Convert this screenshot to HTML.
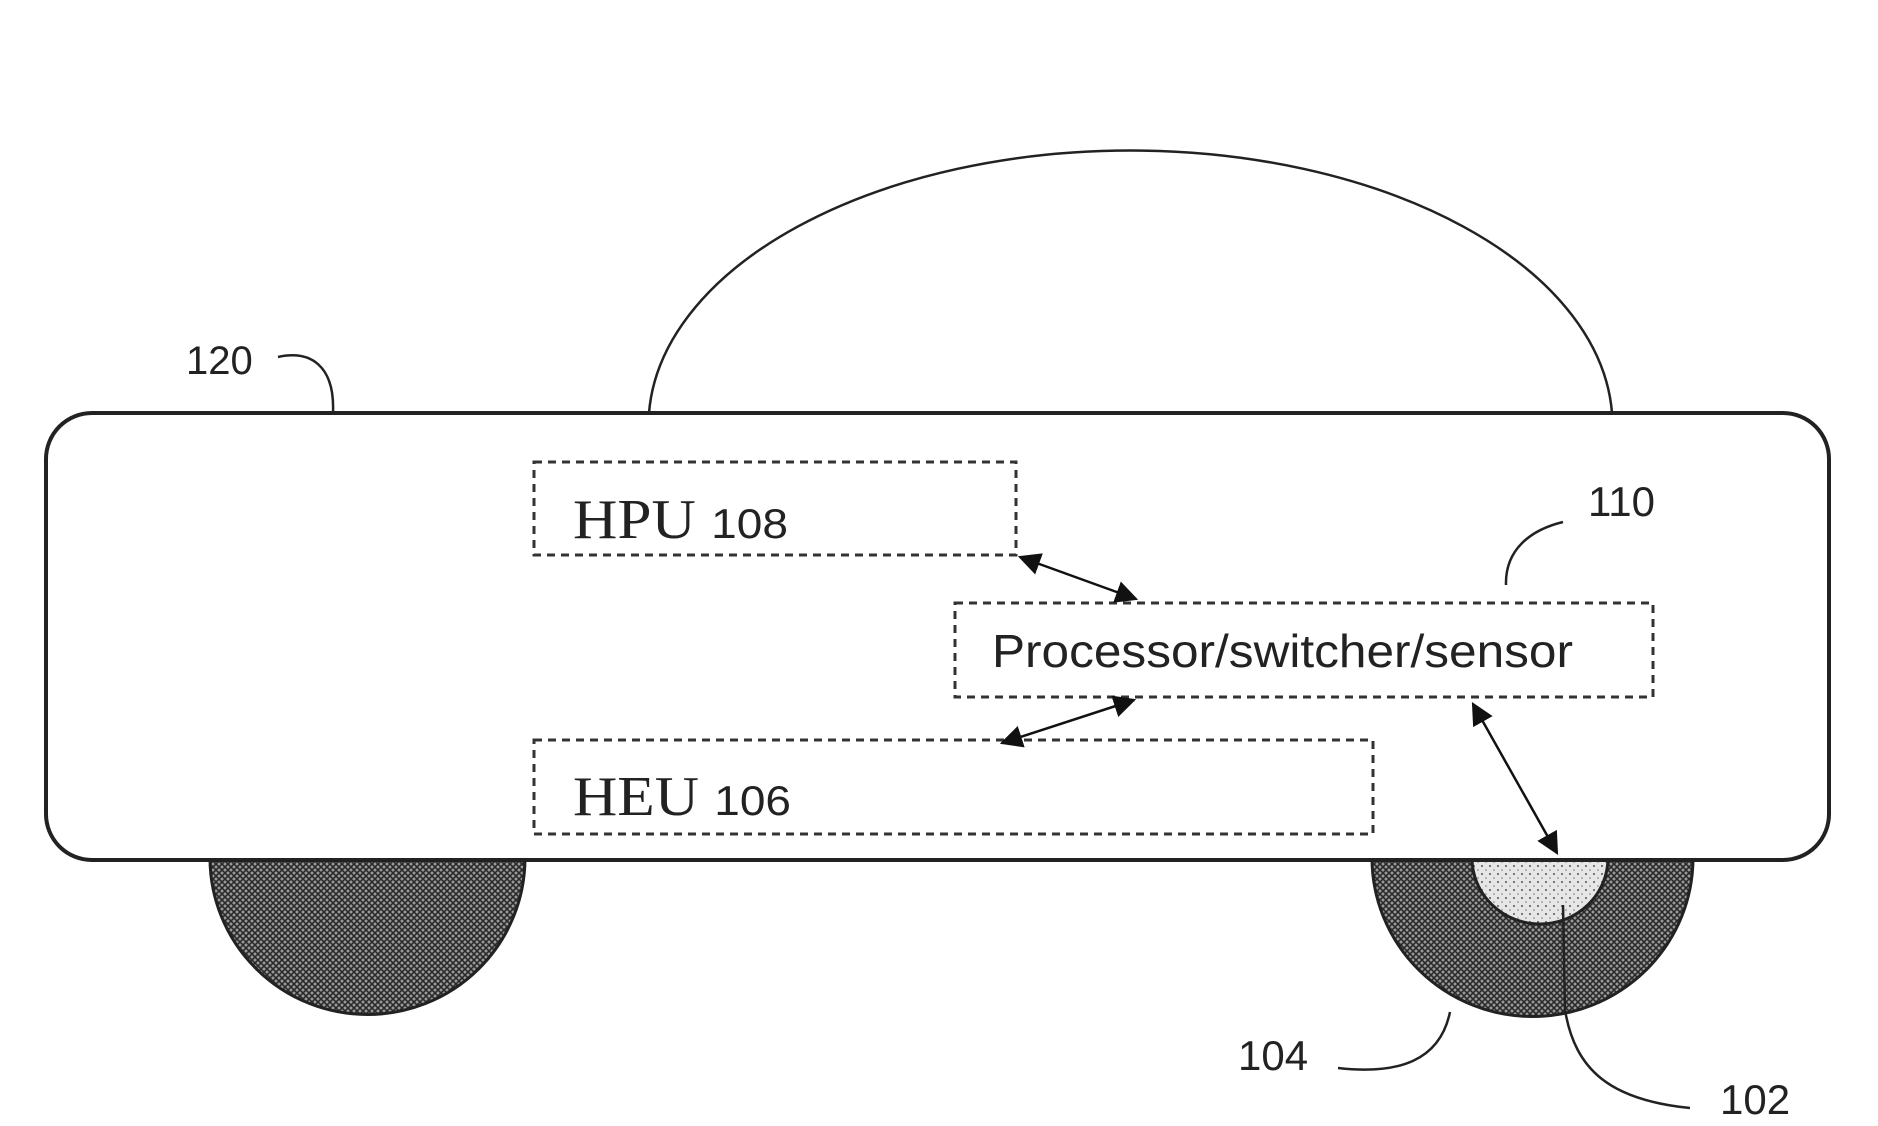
<!DOCTYPE html>
<html><head><meta charset="utf-8"><style>
html,body{margin:0;padding:0;background:#fff;}
svg{display:block;}
</style></head><body>
<svg width="1878" height="1126" viewBox="0 0 1878 1126" xmlns="http://www.w3.org/2000/svg">
<defs>
<pattern id="h" width="6" height="6" patternUnits="userSpaceOnUse">
<rect width="6" height="6" fill="#9a9a9a"/>
<path d="M0 0L6 6M6 0L0 6" stroke="#2a2a2a" stroke-width="1.6"/>
</pattern>
<pattern id="d" width="8" height="8" patternUnits="userSpaceOnUse">
<rect width="8" height="8" fill="#e6e6e6"/>
<circle cx="2" cy="2" r="1" fill="#555"/><circle cx="6" cy="6" r="0.8" fill="#777"/>
</pattern>
<marker id="a" viewBox="0 0 10 10" refX="9" refY="5" markerWidth="9" markerHeight="9" orient="auto-start-reverse">
<path d="M0 0L10 5L0 10z" fill="#111"/>
</marker>
</defs>
<!-- dome -->
<path d="M649 413 A 482 275 0 0 1 1612 413" fill="none" stroke="#222" stroke-width="2.5"/>
<!-- wheels -->
<path d="M210 858 A157 156 0 0 0 525 858 Z" fill="url(#h)" stroke="#222" stroke-width="3"/>
<path d="M1372 858 A160 158 0 0 0 1693 858 Z" fill="url(#h)" stroke="#222" stroke-width="3"/>
<path d="M1472 858 A68 66 0 0 0 1608 858 Z" fill="url(#d)" stroke="#222" stroke-width="3"/>
<!-- body -->
<rect x="46" y="413" width="1783" height="447" rx="46" ry="46" fill="#fff" stroke="#222" stroke-width="4"/>
<!-- dashed boxes -->
<g fill="none" stroke="#333" stroke-width="3" stroke-dasharray="8 6">
<rect x="534" y="462" width="482" height="93"/>
<rect x="955" y="603" width="698" height="94"/>
<rect x="534" y="740" width="839" height="94"/>
</g>
<!-- arrows -->
<g stroke="#111" stroke-width="2.5" fill="none" marker-start="url(#a)" marker-end="url(#a)">
<line x1="1020" y1="557" x2="1136" y2="599"/>
<line x1="1002" y1="743" x2="1134" y2="700"/>
<line x1="1473" y1="704" x2="1557" y2="853"/>
</g>
<!-- leaders -->
<g stroke="#222" stroke-width="2.5" fill="none">
<path d="M278 357 C 310 350, 335 365, 333 413"/>
<path d="M1563 522 C 1530 530, 1505 550, 1506 585"/>
<path d="M1338 1068 C 1400 1075, 1440 1060, 1450 1012"/>
<path d="M1563 905 L1565 1010 C 1575 1070, 1610 1100, 1690 1108"/>
</g>
<!-- text -->
<g font-family="Liberation Sans, sans-serif" fill="#222">
<text x="186" y="374" font-size="40">120</text>
<text x="1588" y="516" font-size="42">110</text>
<text x="1238" y="1070" font-size="42">104</text>
<text x="1720" y="1114" font-size="42">102</text>
<text x="992" y="667" font-size="46" textLength="581" lengthAdjust="spacingAndGlyphs">Processor/switcher/sensor</text>
</g>
<text x="573" y="538" font-family="Liberation Serif, serif" font-size="56" fill="#222" textLength="215" lengthAdjust="spacingAndGlyphs">HPU <tspan font-family="Liberation Sans, sans-serif" font-size="42">108</tspan></text>
<text x="573" y="815" font-family="Liberation Serif, serif" font-size="56" fill="#222" textLength="218" lengthAdjust="spacingAndGlyphs">HEU <tspan font-family="Liberation Sans, sans-serif" font-size="42">106</tspan></text>
</svg>
</body></html>
